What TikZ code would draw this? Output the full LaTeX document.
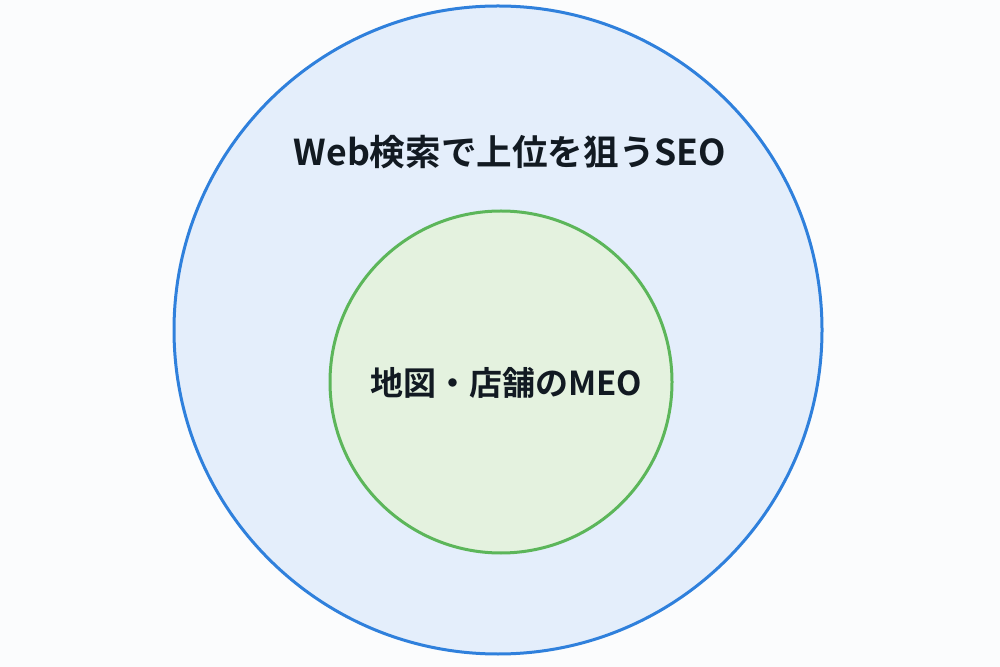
\documentclass[tikz,border=0pt]{standalone}
\usepackage{fontspec}
\newfontfamily\cjk{Noto Sans CJK JP}[BoldFont={Noto Sans CJK JP Bold}]
\definecolor{bgc}{HTML}{FBFCFD}
\definecolor{outerfill}{HTML}{E4EEFB}
\definecolor{outerline}{HTML}{2F80DC}
\definecolor{innerfill}{HTML}{E4F2DF}
\definecolor{innerline}{HTML}{5CB65A}
\definecolor{txt}{HTML}{121A22}
\tikzset{
  lbl/.style={font=\cjk\bfseries, text=txt, inner sep=0pt},
}
\begin{document}
\begin{tikzpicture}[x=0.5pt,y=-0.5pt]
\fill[bgc] (0,0) rectangle (1000,667);
\useasboundingbox (0,0) rectangle (1000,667);
\coordinate (oc) at (498,330);
\coordinate (ic) at (501,382);
\draw[outerline, fill=outerfill, line width=1.5pt] (oc) circle [radius=324];
\draw[innerline, fill=innerfill, line width=1.5pt] (ic) circle [radius=171];
\node[lbl, font=\cjk\bfseries\fontsize{17.8pt}{20pt}\selectfont] (seo) at (510,152) {Web検索で上位を狙うSEO};
\node[lbl, font=\cjk\bfseries\fontsize{16.5pt}{18pt}\selectfont] (meo) at (506,383) {地図・店舗のMEO};
\end{tikzpicture}
\end{document}
